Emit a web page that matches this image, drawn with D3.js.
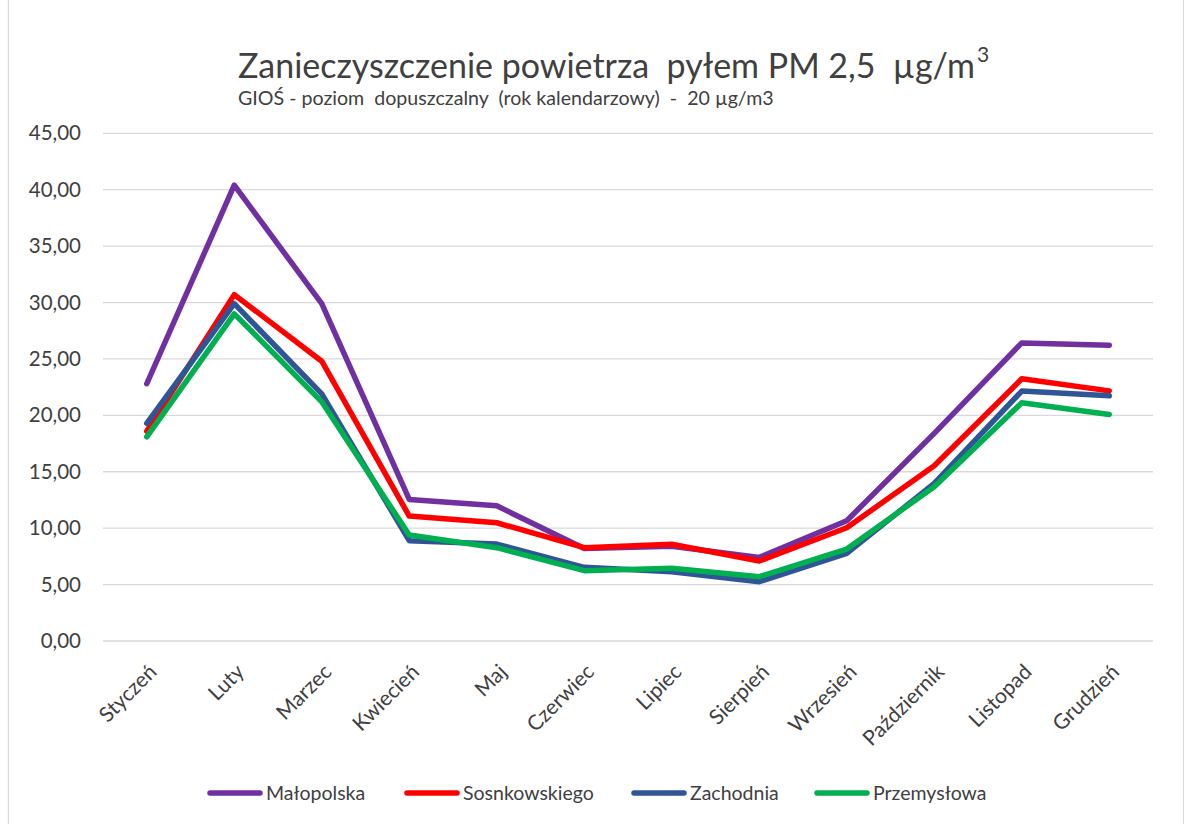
<!DOCTYPE html>
<html><head><meta charset="utf-8">
<script src="https://cdn.jsdelivr.net/npm/d3@7"></script>
<style>
html,body{margin:0;padding:0;background:#fff;}
svg{display:block;}
text{font-family:Lato,"Open Sans",sans-serif;white-space:pre;}
</style></head>
<body>
<svg id="chart" width="1184" height="824"></svg>
<script>
const months = ["Styczeń","Luty","Marzec","Kwiecień","Maj","Czerwiec","Lipiec","Sierpień","Wrzesień","Październik","Listopad","Grudzień"];
const seriesNames = ["Małopolska","Sosnkowskiego","Zachodnia","Przemysłowa"];
const malopolska    = [22.8, 40.4, 29.9, 12.55, 11.98, 8.2, 8.4, 7.41, 10.66, 18.4, 26.42, 26.22];
const sosnkowskiego = [18.6, 30.7, 24.8, 11.07, 10.48, 8.27, 8.57, 7.09, 10.04, 15.53, 23.24, 22.17];
const zachodnia     = [19.3, 29.9, 21.9, 8.89, 8.59, 6.53, 6.14, 5.26, 7.77, 13.97, 22.15, 21.73];
const przemyslowa   = [18.1, 29.0, 21.2, 9.39, 8.27, 6.23, 6.44, 5.70, 8.15, 13.67, 21.11, 20.08];
const yTicks = [0,5,10,15,20,25,30,35,40,45];
const colors = ["#7030a0","#ff0000","#2f5597","#00b050"];
const titleText = "Zanieczyszczenie powietrza  pyłem PM 2,5  µg/m";
const titleSup = "3";
const subtitleText = "GIOŚ - poziom  dopuszczalny  (rok kalendarzowy)  -  20 µg/m3";

const data = [malopolska, sosnkowskiego, zachodnia, przemyslowa];
const svg = d3.select("#chart");

// chart border
svg.append("rect").attr("x",8.5).attr("y",-2).attr("width",1175).attr("height",830)
  .attr("fill","none").attr("stroke","#d9d9d9").attr("stroke-width",1.3);

const x = d3.scaleBand().domain(months).range([103,1153]);
const y = d3.scaleLinear().domain([0,45]).range([641,133.3]);

// gridlines
svg.append("g").selectAll("line").data(yTicks).join("line")
  .attr("x1",103).attr("x2",1153)
  .attr("y1",d=>y(d)).attr("y2",d=>y(d))
  .attr("stroke","#d9d9d9").attr("stroke-width",1.3);

// y axis labels
const fmt = d => d3.format(".2f")(d).replace(".",",");
const yAxis = d3.axisLeft(y).tickValues(yTicks).tickFormat(fmt).tickSize(0).tickPadding(0);
const gy = svg.append("g").attr("transform","translate(81,0)").call(yAxis);
gy.select(".domain").remove();
gy.selectAll("text").attr("fill","#404040").style("font-size","20.5px").style("font-family","Lato, 'Open Sans', sans-serif");

// x axis labels
const xAxis = d3.axisBottom(x).tickSize(0).tickPadding(0);
const gx = svg.append("g").attr("transform","translate(0,650)").call(xAxis);
gx.select(".domain").remove();
gx.selectAll("text")
  .attr("fill","#404040").style("font-size","21px").style("font-family","Lato, 'Open Sans', sans-serif")
  .attr("text-anchor","end").attr("dy","0.35em")
  .attr("transform","translate(6,18) rotate(-45)");

// lines
const line = d3.line().x((d,i)=>x(months[i])+x.bandwidth()/2).y(d=>y(d));
svg.append("g").selectAll("path").data(data).join("path")
  .attr("d",line).attr("fill","none")
  .attr("stroke",(d,i)=>colors[i]).attr("stroke-width",5.5)
  .attr("stroke-linejoin","round").attr("stroke-linecap","round");

// title (font size fitted to the reference width)
const title = svg.append("text").attr("x",238).attr("y",78).attr("fill","#404040")
  .style("font-size","34px").text(titleText);
const w0 = title.node().getComputedTextLength();
title.style("font-size",(34*737/w0)+"px");
const w1 = title.node().getComputedTextLength();
svg.append("text").attr("x",238+w1+2).attr("y",62).attr("fill","#404040")
  .style("font-size","21px").text(titleSup);

const sub = svg.append("text").attr("x",238).attr("y",105).attr("fill","#404040")
  .style("font-size","17px").text(subtitleText);
const s0 = sub.node().getComputedTextLength();
sub.style("font-size",(17*536/s0)+"px");

// legend
const legX = [208,405,632,815];
const lg = svg.append("g").selectAll("g").data(seriesNames).join("g")
  .attr("transform",(d,i)=>`translate(${legX[i]},793)`);
lg.append("line").attr("x1",2).attr("x2",52).attr("y1",0).attr("y2",0)
  .attr("stroke",(d,i)=>colors[i]).attr("stroke-width",5.5).attr("stroke-linecap","round");
lg.append("text").attr("x",58).attr("y",0).attr("dy","0.35em").attr("fill","#404040")
  .style("font-size","19.5px").text(d=>d);
</script>
</body></html>
